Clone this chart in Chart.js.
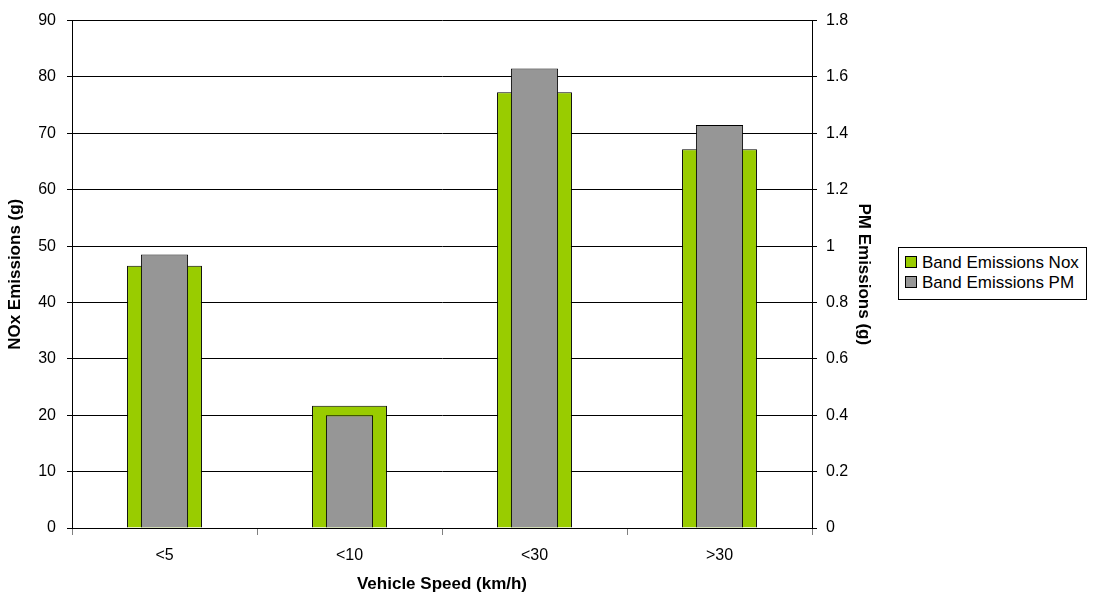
<!DOCTYPE html>
<html>
<head>
<meta charset="utf-8">
<script src="https://cdn.jsdelivr.net/npm/chart.js@4.4.1/dist/chart.umd.min.js"></script>
<style>
  body { margin: 0; background: #fff; font-family: "Liberation Sans", Arial, sans-serif; }
  #wrap { position: relative; width: 1097px; height: 599px; }
  #legende {
    position: absolute; left: 898px; top: 247px; width: 187px; height: 51px;
    border: 1px solid #000; background: #fff;
  }
  .item { position: absolute; left: 6px; font-size: 17px; line-height: 20px; white-space: nowrap; color: #000; }
  .item span.box { display: inline-block; width: 10px; height: 10px; border: 1px solid #000; margin-right: 5px; vertical-align: 0px; }
</style>
</head>
<body>
<div id="wrap">
  <canvas id="grafico" width="1097" height="599"></canvas>
  <div id="legende">
    <div class="item" style="top:5px"><span class="box" style="background:#99CC00"></span>Band Emissions Nox</div>
    <div class="item" style="top:25px"><span class="box" style="background:#969696"></span>Band Emissions PM</div>
  </div>
</div>
<script>
// Datos del gráfico
const categorias = ["<5", "<10", "<30", ">30"];
const emisionesNox = [46.5, 21.7, 77.3, 67.2];
const emisionesPM = [0.97, 0.40, 1.63, 1.43];

const fuente = "'Liberation Sans', Arial, sans-serif";

// Fija el tamaño de cada eje para cuadrar con la imagen
function fijarAncho(ancho) {
    return scale => { scale.width = ancho; };
}

const ctx = document.getElementById("grafico").getContext("2d");
window.myChart = new Chart(ctx, {
    type: "bar",
    data: {
        labels: categorias,
        datasets: [
            {
                label: "Band Emissions Nox",
                data: emisionesNox,
                yAxisID: "yNox",
                backgroundColor: "#99CC00",
                borderColor: "#000",
                borderWidth: 1,
                grouped: false,
                barPercentage: 0.405,
                categoryPercentage: 1,
                order: 2
            },
            {
                label: "Band Emissions PM",
                data: emisionesPM,
                yAxisID: "yPM",
                backgroundColor: "#969696",
                borderColor: "#000",
                borderWidth: 1,
                grouped: false,
                barPercentage: 0.255,
                categoryPercentage: 1,
                order: 1
            }
        ]
    },
    options: {
        responsive: false,
        animation: false,
        devicePixelRatio: 1,
        layout: { padding: { left: 1, right: 219, top: 13, bottom: 0 } },
        plugins: {
            legend: { display: false },
            tooltip: { enabled: false }
        },
        scales: {
            x: {
                afterFit: scale => { scale.height = 71; },
                grid: { drawOnChartArea: false, color: "#808080", tickLength: 7, offset: true },
                border: { color: "#000" },
                ticks: { color: "#000", font: { family: fuente, size: 16 }, padding: 11 },
                title: { display: true, text: "Vehicle Speed (km/h)", color: "#000",
                         font: { family: fuente, size: 17, weight: "bold" } }
            },
            yNox: {
                position: "left",
                min: 0, max: 90,
                afterFit: fijarAncho(71),
                ticks: { stepSize: 10, color: "#000", font: { family: fuente, size: 16 }, padding: 11 },
                grid: { color: "#000", tickLength: 5 },
                border: { color: "#000" },
                title: { display: true, text: "NOx Emissions (g)", color: "#000",
                         font: { family: fuente, size: 17, weight: "bold" } }
            },
            yPM: {
                position: "right",
                min: 0, max: 1.8,
                afterFit: fijarAncho(66),
                ticks: {
                    stepSize: 0.2, color: "#000", font: { family: fuente, size: 16 }, padding: 9,
                    callback: valor => String(Number(valor.toFixed(1))) // "1" en vez de "1.0"
                },
                grid: { drawOnChartArea: false, color: "#000", tickLength: 5 },
                border: { color: "#000" },
                title: { display: true, text: "PM Emissions (g)", color: "#000",
                         font: { family: fuente, size: 17, weight: "bold" } }
            }
        }
    }
});
</script>
</body>
</html>
